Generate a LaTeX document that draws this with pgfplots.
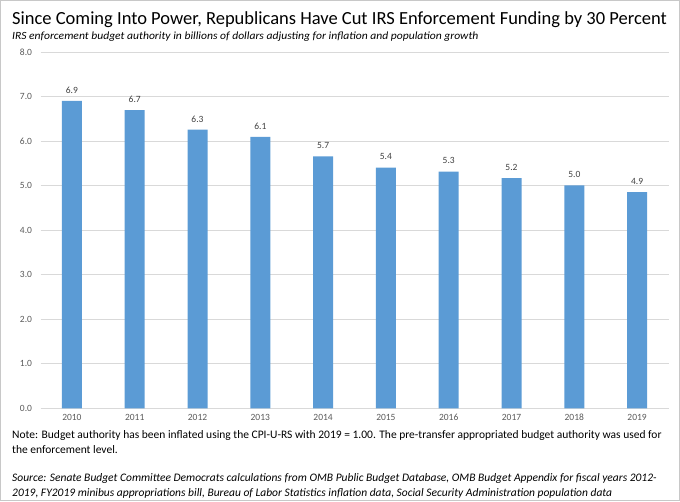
\documentclass[border=0pt]{standalone}
\usepackage{pgfplots}
\pgfplotsset{compat=1.18}
\usepackage{fontspec}
\setmainfont{Carlito}
\definecolor{barblue}{HTML}{5B9BD5}
\definecolor{gridgray}{HTML}{D9D9D9}
\definecolor{ticktext}{HTML}{595959}
\definecolor{labtext}{HTML}{404040}
\definecolor{framegray}{HTML}{C8C8C8}
\begin{document}
\begin{tikzpicture}
\path[use as bounding box] (0pt,0pt) rectangle (680pt,-501pt);
\draw[framegray, line width=1pt] (0.5pt,-0.5pt) rectangle (679.5pt,-500.5pt);
\begin{axis}[
  at={(40.5pt,-408.3pt)}, anchor=south west,
  scale only axis, width=628pt, height=356pt,
  xmin=-0.5, xmax=9.5, ymin=0, ymax=8,
  xtick=data,
  xticklabels={2010,2011,2012,2013,2014,2015,2016,2017,2018,2019},
  ytick={0,1,2,3,4,5,6,7,8},
  /pgf/number format/assume math mode=true,
  yticklabel={\pgfmathprintnumber[fixed,fixed zerofill,precision=1]{\tick}},
  ymajorgrids, grid style={gridgray, line width=0.8pt},
  axis x line*=bottom, axis y line*=left,
  x axis line style={gridgray, line width=0.8pt, -},
  y axis line style={draw=none},
  major tick length=0pt,
  tick label style={font=\fontsize{9.5}{11}\selectfont, text=ticktext},
  yticklabel style={xshift=-5pt},
  xticklabel style={yshift=-2pt},
  ybar, bar width=20pt,
  nodes near coords={\pgfmathprintnumber[fixed,fixed zerofill,precision=1]{\pgfplotspointmeta}},
  nodes near coords style={font=\fontsize{9.5}{11}\selectfont, text=labtext, yshift=4pt},
  clip=false,
]
\addplot[fill=barblue, draw=none] coordinates {
(0,6.91) (1,6.70) (2,6.26) (3,6.10) (4,5.66) (5,5.41) (6,5.32) (7,5.17) (8,5.01) (9,4.86)};
\end{axis}
\node[anchor=base west, inner sep=0pt] at (12pt,-24pt) {\fontsize{18.5}{22}\selectfont Since Coming Into Power, Republicans Have Cut IRS Enforcement Funding by 30 Percent};
\node[anchor=base west, inner sep=0pt] at (12pt,-39.5pt) {\scalebox{1.055}[1]{\fontsize{11}{13}\selectfont\itshape IRS enforcement budget authority in billions of dollars adjusting for inflation and population growth}};
\node[anchor=base west, inner sep=0pt] at (12pt,-438pt) {\fontsize{11.5}{13}\selectfont Note: Budget authority has been inflated using the CPI-U-RS with 2019 = 1.00. The pre-transfer appropriated budget authority was used for};
\node[anchor=base west, inner sep=0pt] at (12pt,-453pt) {\fontsize{11.5}{13}\selectfont the enforcement level.};
\node[anchor=base west, inner sep=0pt] at (12pt,-481pt) {\fontsize{11.5}{13}\selectfont\itshape Source: Senate Budget Committee Democrats calculations from OMB Public Budget Database, OMB Budget Appendix for fiscal years 2012-};
\node[anchor=base west, inner sep=0pt] at (12pt,-496pt) {\fontsize{11.5}{13}\selectfont\itshape 2019, FY2019 minibus appropriations bill, Bureau of Labor Statistics inflation data, Social Security Administration population data};
\end{tikzpicture}
\end{document}
